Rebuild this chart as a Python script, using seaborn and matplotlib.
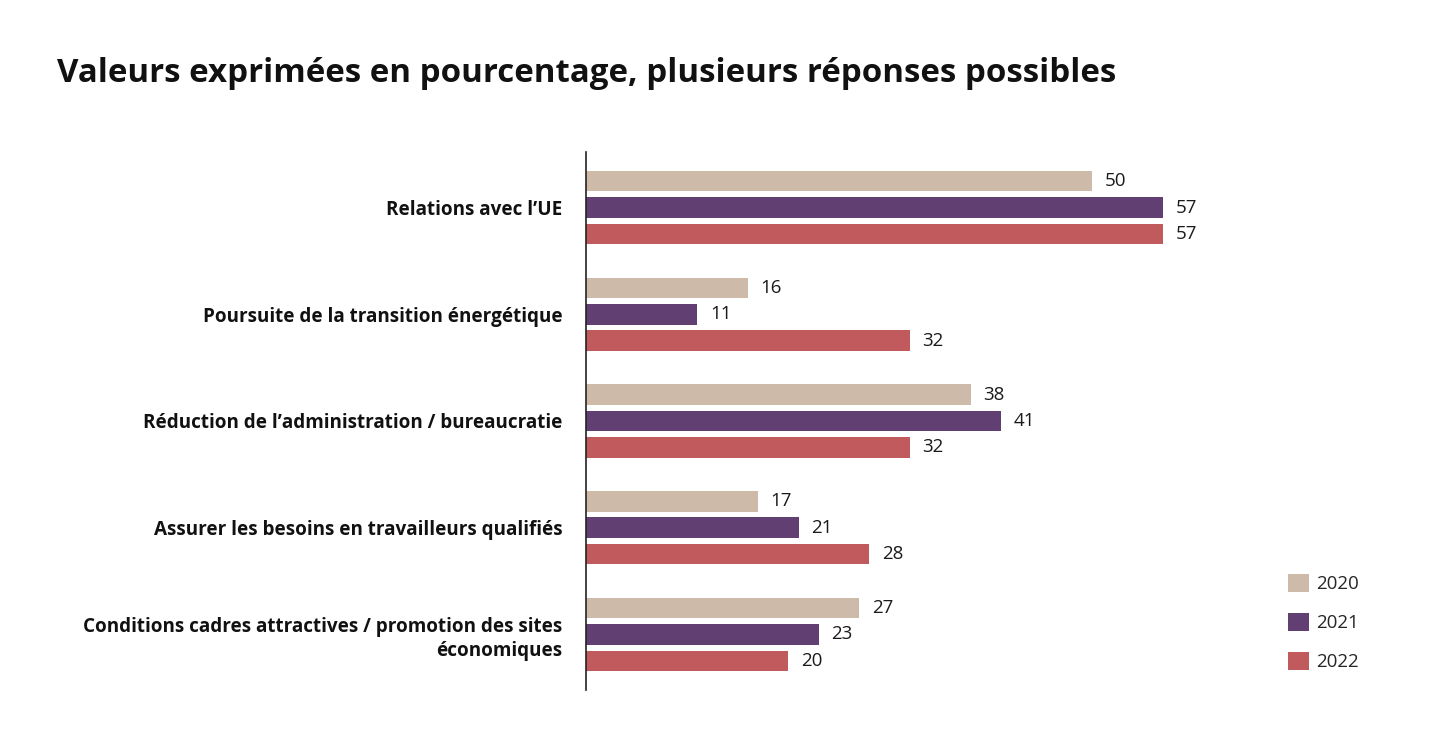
import pandas as pd
import matplotlib.pyplot as plt
import seaborn as sns

# Données du graphique
categories = [
    "Relations avec l’UE",
    "Poursuite de la transition énergétique",
    "Réduction de l’administration / bureaucratie",
    "Assurer les besoins en travailleurs qualifiés",
    "Conditions cadres attractives / promotion des sites\néconomiques",
]
annees = ["2020", "2021", "2022"]
valeurs_2020 = [50, 16, 38, 17, 27]
valeurs_2021 = [57, 11, 41, 21, 23]
valeurs_2022 = [57, 32, 32, 28, 20]

couleurs = {"2020": "#CDBAA9", "2021": "#613F72", "2022": "#C05A5C"}

df = pd.DataFrame({
    "categorie": categories * 3,
    "annee": ["2020"] * 5 + ["2021"] * 5 + ["2022"] * 5,
    "valeur": valeurs_2020 + valeurs_2021 + valeurs_2022,
})

sns.set_theme(style="white")
plt.rcParams["font.family"] = ["Open Sans", "DejaVu Sans"]

fig = plt.figure(figsize=(14.4, 7.5), dpi=100)
ax = fig.add_axes([586 / 1440, 60 / 750, 658 / 1440, 538 / 750])

sns.barplot(data=df, y="categorie", x="valeur", hue="annee", hue_order=annees,
            palette=couleurs, order=categories, orient="h",
            width=0.74, gap=0.22, ax=ax, saturation=1, legend=True, linewidth=0)

for cont in ax.containers:
    ax.bar_label(cont, padding=9, fontsize=13.5, color="#1a1a1a")

ax.set_xlim(0, 65)
ax.set_ylim(4.52, -0.52)
ax.set_xlabel("")
ax.set_ylabel("")
ax.set_xticks([])
ax.tick_params(axis="y", length=0, pad=17)
for lab in ax.get_yticklabels():
    lab.set_fontweight("bold")
    lab.set_fontsize(13.6)
    lab.set_linespacing(1.3)
    lab.set_color("#111111")

for s in ["top", "right", "bottom"]:
    ax.spines[s].set_visible(False)
ax.spines["left"].set_color("#222222")
ax.spines["left"].set_linewidth(1.2)

handles, labels = ax.get_legend_handles_labels()
ax.legend(handles, labels, loc="upper left", bbox_to_anchor=(1271 / 1440, 1 - 557 / 750),
          bbox_transform=fig.transFigure, frameon=False, fontsize=13.5,
          handlelength=1.1, handleheight=1.1, handletextpad=0.4, labelspacing=1.05)

fig.text(57 / 1440, 1 - 73 / 750, "Valeurs exprimées en pourcentage, plusieurs réponses possibles",
         fontsize=23.8, fontweight="bold", va="center", ha="left", color="#111111")

fig.savefig("out.png", dpi=100, facecolor="white")
